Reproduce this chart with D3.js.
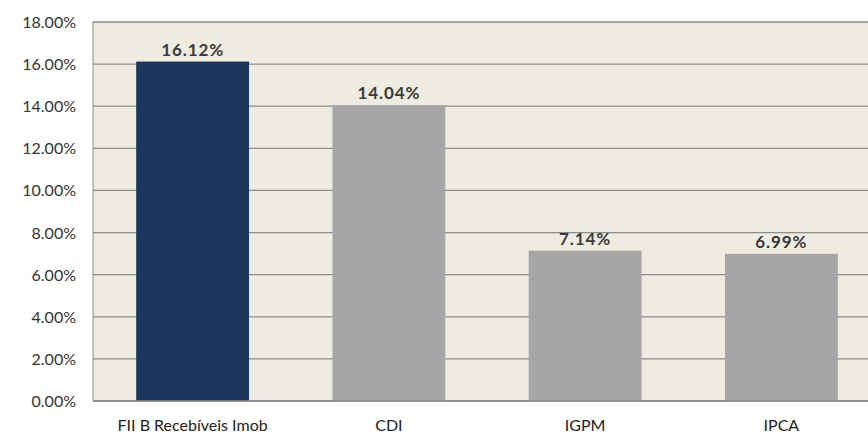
<!DOCTYPE html>
<html><head><meta charset="utf-8">
<script src="https://cdn.jsdelivr.net/npm/d3@7"></script>
<style>body{margin:0;background:#fff}svg{display:block;font-family:Lato,sans-serif}</style>
</head><body><svg id="chart" width="868" height="438"></svg>
<script>
const categories = ["FII B Recebíveis Imob", "CDI", "IGPM", "IPCA"];
const values = [16.12, 14.04, 7.14, 6.99];
const barColors = ["#1b365d", "#a6a6a6", "#a6a6a6", "#a6a6a6"];
const ticks = [0, 2, 4, 6, 8, 10, 12, 14, 16, 18];

const svg = d3.select("#chart");
const plotLeft = 93, plotRight = 881, plotTop = 22, plotBottom = 401;

const x = d3.scaleBand().domain(categories).range([plotLeft, plotRight]).paddingInner(0.425).paddingOuter(0.22);
const y = d3.scaleLinear().domain([0, 18]).range([plotBottom, plotTop]);

svg.append("rect").attr("x", plotLeft).attr("y", plotTop).attr("width", plotRight - plotLeft).attr("height", plotBottom - plotTop)
  .attr("fill", "#eeebe0").attr("stroke", "#8c8c8c").attr("stroke-width", 1);

svg.append("g").selectAll("line").data(ticks).enter().append("line")
  .attr("x1", plotLeft).attr("x2", plotRight).attr("y1", d => y(d)).attr("y2", d => y(d))
  .attr("stroke", "#8c8c8c").attr("stroke-width", 1.2);

svg.append("g").selectAll("text").data(ticks).enter().append("text")
  .attr("x", 76).attr("y", d => y(d) + 6).attr("text-anchor", "end")
  .attr("font-size", 16).attr("fill", "#333").text(d => d.toFixed(2) + "%");

svg.append("g").selectAll("rect").data(values).enter().append("rect")
  .attr("x", (d, i) => x(categories[i])).attr("width", x.bandwidth())
  .attr("y", d => y(d)).attr("height", d => plotBottom - y(d))
  .attr("fill", (d, i) => barColors[i]);

svg.append("line").attr("x1", plotLeft).attr("x2", plotRight).attr("y1", plotBottom).attr("y2", plotBottom)
  .attr("stroke", "#8c8c8c").attr("stroke-width", 1.5);

svg.append("g").selectAll("text").data(values).enter().append("text")
  .attr("x", (d, i) => x(categories[i]) + x.bandwidth() / 2).attr("y", d => y(d) - 6)
  .attr("text-anchor", "middle").attr("font-size", 17).attr("font-weight", "bold")
  .attr("fill", "#3a3a3a").attr("letter-spacing", 0.9).text(d => d.toFixed(2) + "%");

svg.append("g").selectAll("text").data(categories).enter().append("text")
  .attr("x", d => x(d) + x.bandwidth() / 2).attr("y", 431)
  .attr("text-anchor", "middle").attr("font-size", 16).attr("fill", "#222").text(d => d);
</script></body></html>
